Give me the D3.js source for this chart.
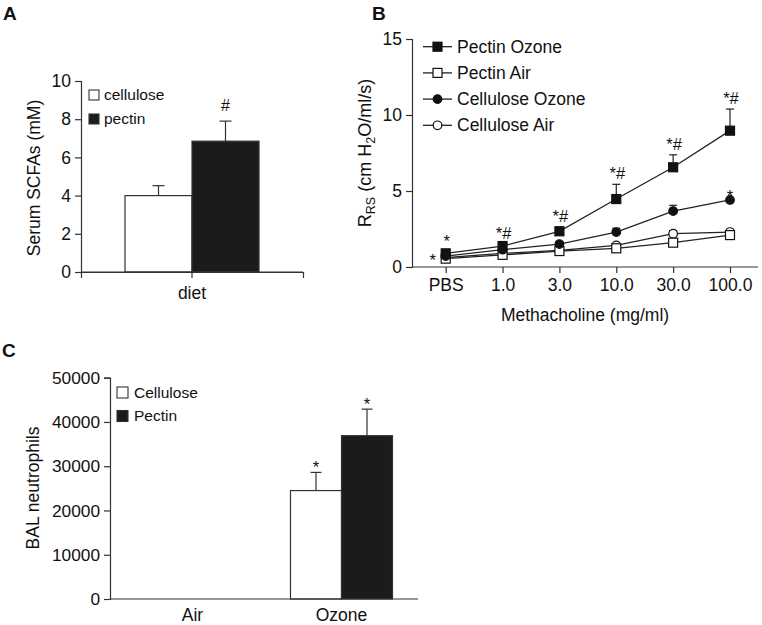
<!DOCTYPE html>
<html>
<head>
<meta charset="utf-8">
<script src="https://cdn.jsdelivr.net/npm/d3@7"></script>
<style>
  html, body { margin: 0; padding: 0; background: #fff; }
  svg { display: block; font-family: "Liberation Sans", Arial, Helvetica, sans-serif; }
</style>
</head>
<body>
<svg id="chart" width="762" height="625"></svg>
<script>
// ---------- Panel A data ----------
const dietCategories = ["diet"];
const dietGroups = ["cellulose", "pectin"];
const serumSCFAs = [4.0, 6.85];
const serumSCFAsErr = [0.52, 1.05];
const serumSig = ["", "#"];
const serumTicks = [0, 2, 4, 6, 8, 10];

// ---------- Panel B data ----------
const doses = ["PBS", "1.0", "3.0", "10.0", "30.0", "100.0"];
const pectinOzone = [0.9, 1.38, 2.35, 4.47, 6.56, 8.97];
const pectinOzoneErr = [0.1, 0.12, 0.27, 0.97, 0.82, 1.42];
const pectinAir = [0.55, 0.8, 1.05, 1.23, 1.6, 2.1];
const pectinAirErr = [0.05, 0.07, 0.1, 0.12, 0.15, 0.2];
const celluloseOzone = [0.72, 1.14, 1.51, 2.3, 3.68, 4.41];
const celluloseOzoneErr = [0.08, 0.1, 0.12, 0.25, 0.38, 0.12];
const celluloseAir = [0.62, 0.9, 1.1, 1.42, 2.19, 2.3];
const celluloseAirErr = [0.05, 0.07, 0.08, 0.12, 0.2, 0.15];
const pectinOzoneSig = ["*", "*#", "*#", "*#", "*#", "*#"];
const rrsTicks = [0, 5, 10, 15];

// ---------- Panel C data ----------
const exposures = ["Air", "Ozone"];
const balGroups = ["Cellulose", "Pectin"];
const balCellulose = [0, 24500];
const balCelluloseErr = [0, 4100];
const balPectin = [0, 36900];
const balPectinErr = [0, 6000];
const balSigCellulose = ["", "*"];
const balSigPectin = ["", "*"];
const balTicks = [0, 10000, 20000, 30000, 40000, 50000];

const svg = d3.select("#chart");
const AXIS = "#333";
const DARK = "#1b1b1b";

function styleAxis(g, fs) {
  g.selectAll("path, line").attr("stroke", AXIS).attr("stroke-width", 1.2);
  g.selectAll("text").attr("font-size", fs).attr("fill", "#111")
    .attr("font-family", "Liberation Sans, Arial, sans-serif");
}

function panelLabel(t, x, y) {
  svg.append("text").attr("x", x).attr("y", y).text(t)
    .attr("font-size", 19).attr("font-weight", "bold").attr("fill", "#111");
}

// ================= Panel A =================
(function () {
  const x = d3.scaleBand().domain(dietCategories).range([81, 303]);
  const sub = d3.scaleBand().domain(dietGroups).range([-67, 67]);
  const y = d3.scaleLinear().domain([0, 10]).range([272, 81]);
  const g = svg.append("g");

  const ya = g.append("g").attr("transform", "translate(81,0)")
    .call(d3.axisLeft(y).tickValues(serumTicks).tickSizeOuter(0).tickSize(6).tickPadding(4));
  styleAxis(ya, 17.5);
  const xa = g.append("g").attr("transform", "translate(0,272)")
    .call(d3.axisBottom(x).tickSizeOuter(0).tickSize(6).tickPadding(9));
  styleAxis(xa, 17.5);

  const cx = x("diet") + x.bandwidth() / 2;
  dietGroups.forEach((grp, i) => {
    const x0 = cx + sub(grp);
    const top = y(serumSCFAs[i]);
    const et = y(serumSCFAs[i] + serumSCFAsErr[i]);
    const mid = x0 + sub.bandwidth() / 2;
    g.append("line").attr("x1", mid).attr("x2", mid).attr("y1", top).attr("y2", et)
      .attr("stroke", AXIS).attr("stroke-width", 1.2);
    g.append("line").attr("x1", mid - 6).attr("x2", mid + 6).attr("y1", et).attr("y2", et)
      .attr("stroke", AXIS).attr("stroke-width", 1.2);
    g.append("rect").attr("x", x0).attr("y", top).attr("width", sub.bandwidth())
      .attr("height", y(0) - top)
      .attr("fill", i === 0 ? "#fff" : DARK).attr("stroke", AXIS).attr("stroke-width", 1.2);
    if (serumSig[i]) {
      g.append("text").attr("x", mid).attr("y", et - 10).attr("text-anchor", "middle")
        .attr("font-size", 16).attr("fill", "#111").text(serumSig[i]);
    }
  });
  g.append("line").attr("x1", 81).attr("x2", 303).attr("y1", 272).attr("y2", 272)
    .attr("stroke", AXIS).attr("stroke-width", 1.2);

  g.append("text").attr("transform", "translate(40,178) rotate(-90)")
    .attr("text-anchor", "middle").attr("font-size", 17.5).attr("fill", "#111")
    .text("Serum SCFAs (mM)");

  dietGroups.forEach((grp, i) => {
    const ly = 95 + i * 24;
    g.append("rect").attr("x", 89).attr("y", ly - 5).attr("width", 10).attr("height", 10)
      .attr("fill", i === 0 ? "#fff" : DARK).attr("stroke", AXIS).attr("stroke-width", 1.1);
    g.append("text").attr("x", 104).attr("y", ly).attr("dy", "0.35em")
      .attr("font-size", 15.5).attr("fill", "#111").text(grp);
  });
  panelLabel("A", 3, 20);
})();

// ================= Panel B =================
(function () {
  const x = d3.scalePoint().domain(doses).range([445.7, 730]);
  const y = d3.scaleLinear().domain([0, 15]).range([267, 39]);
  const g = svg.append("g");

  const ya = g.append("g").attr("transform", "translate(412,0)")
    .call(d3.axisLeft(y).tickValues(rrsTicks).tickSizeOuter(0).tickSize(6).tickPadding(4));
  styleAxis(ya, 17.5);
  const xa = g.append("g").attr("transform", "translate(0,267)")
    .call(d3.axisBottom(x).tickSizeOuter(0).tickSize(6).tickPadding(6));
  styleAxis(xa, 17.5);
  xa.select("path.domain").remove();
  g.append("line").attr("x1", 412).attr("x2", 758).attr("y1", 267).attr("y2", 267)
    .attr("stroke", AXIS).attr("stroke-width", 1.2);

  const series = [
    { name: "Cellulose Air", v: celluloseAir, e: celluloseAirErr, shape: "circle", filled: false },
    { name: "Pectin Air", v: pectinAir, e: pectinAirErr, shape: "square", filled: false },
    { name: "Cellulose Ozone", v: celluloseOzone, e: celluloseOzoneErr, shape: "circle", filled: true },
    { name: "Pectin Ozone", v: pectinOzone, e: pectinOzoneErr, shape: "square", filled: true }
  ];
  const line = d3.line().x((d, i) => x(doses[i])).y(d => y(d));

  series.forEach(s => {
    g.append("path").attr("d", line(s.v)).attr("fill", "none")
      .attr("stroke", "#222").attr("stroke-width", 1.3);
  });
  series.forEach(s => {
    s.v.forEach((v, i) => {
      const cx = x(doses[i]);
      const et = y(v + s.e[i]);
      g.append("line").attr("x1", cx).attr("x2", cx).attr("y1", y(v)).attr("y2", et)
        .attr("stroke", "#222").attr("stroke-width", 1.2);
      g.append("line").attr("x1", cx - 4).attr("x2", cx + 4).attr("y1", et).attr("y2", et)
        .attr("stroke", "#222").attr("stroke-width", 1.2);
    });
  });
  pectinOzoneSig.forEach((t, i) => {
    const cx = x(doses[i]);
    const et = y(pectinOzone[i] + pectinOzoneErr[i]);
    g.append("text").attr("x", cx + 1).attr("y", et - 5).attr("text-anchor", "middle")
      .attr("font-size", 16.5).attr("fill", "#111").text(t);
  });
  g.append("text").attr("x", x("PBS") - 13).attr("y", y(celluloseAir[0]) + 8)
    .attr("text-anchor", "middle").attr("font-size", 16.5).attr("fill", "#111").text("*");
  g.append("text").attr("x", x("100.0")).attr("y", y(celluloseOzone[5]) + 2)
    .attr("text-anchor", "middle").attr("font-size", 16.5).attr("fill", "#111").text("*");

  function marker(sel, s, cx, cy) {
    if (s.shape === "square") {
      sel.append("rect").attr("x", cx - 4.5).attr("y", cy - 4.5).attr("width", 9).attr("height", 9)
        .attr("fill", s.filled ? "#111" : "#fff").attr("stroke", "#111").attr("stroke-width", 1.2);
    } else {
      sel.append("circle").attr("cx", cx).attr("cy", cy).attr("r", 4.3)
        .attr("fill", s.filled ? "#111" : "#fff").attr("stroke", "#111").attr("stroke-width", 1.2);
    }
  }
  series.forEach(s => {
    s.v.forEach((v, i) => marker(g, s, x(doses[i]), y(v)));
  });

  const legendOrder = [series[3], series[1], series[2], series[0]];
  legendOrder.forEach((s, i) => {
    const ly = 46.7 + i * 26.2;
    g.append("line").attr("x1", 423).attr("x2", 452).attr("y1", ly).attr("y2", ly)
      .attr("stroke", "#222").attr("stroke-width", 1.3);
    marker(g, s, 437.5, ly);
    g.append("text").attr("x", 457).attr("y", ly).attr("dy", "0.35em")
      .attr("font-size", 17.5).attr("fill", "#111").text(s.name);
  });

  const yt = g.append("text").attr("transform", "translate(371,153) rotate(-90)")
    .attr("text-anchor", "middle").attr("font-size", 18).attr("fill", "#111");
  yt.append("tspan").text("R");
  yt.append("tspan").attr("font-size", 12.5).attr("dy", 4).text("RS");
  yt.append("tspan").attr("dy", -4).text(" (cm H");
  yt.append("tspan").attr("font-size", 12.5).attr("dy", 4).text("2");
  yt.append("tspan").attr("dy", -4).text("O/ml/s)");

  g.append("text").attr("x", 585).attr("y", 321).attr("text-anchor", "middle")
    .attr("font-size", 17.5).attr("fill", "#111").text("Methacholine (mg/ml)");
  panelLabel("B", 372, 20);
})();

// ================= Panel C =================
(function () {
  const x = d3.scaleBand().domain(exposures).range([118, 416]);
  const sub = d3.scaleBand().domain(balGroups).range([-51, 51]);
  const y = d3.scaleLinear().domain([0, 50000]).range([599, 377.7]);
  const g = svg.append("g");

  const ya = g.append("g").attr("transform", "translate(110,0)")
    .call(d3.axisLeft(y).tickValues(balTicks).tickFormat(d3.format("d")).tickSizeOuter(0).tickSize(6).tickPadding(4));
  styleAxis(ya, 17.3);
  const xa = g.append("g").attr("transform", "translate(0,599)")
    .call(d3.axisBottom(x).tickSizeOuter(0).tickSize(0).tickPadding(10));
  styleAxis(xa, 17.5);
  xa.select("path.domain").remove();

  const vals = [balCellulose, balPectin];
  const errs = [balCelluloseErr, balPectinErr];
  const sigs = [balSigCellulose, balSigPectin];
  exposures.forEach((ex, j) => {
    const cx = x(ex) + x.bandwidth() / 2;
    balGroups.forEach((grp, i) => {
      const v = vals[i][j];
      if (v <= 0) return;
      const x0 = cx + sub(grp);
      const mid = x0 + sub.bandwidth() / 2;
      const top = y(v);
      const et = y(v + errs[i][j]);
      g.append("line").attr("x1", mid).attr("x2", mid).attr("y1", top).attr("y2", et)
        .attr("stroke", AXIS).attr("stroke-width", 1.2);
      g.append("line").attr("x1", mid - 5.5).attr("x2", mid + 5.5).attr("y1", et).attr("y2", et)
        .attr("stroke", AXIS).attr("stroke-width", 1.2);
      g.append("rect").attr("x", x0).attr("y", top).attr("width", sub.bandwidth())
        .attr("height", y(0) - top)
        .attr("fill", i === 0 ? "#fff" : DARK).attr("stroke", AXIS).attr("stroke-width", 1.2);
      if (sigs[i][j]) {
        g.append("text").attr("x", mid).attr("y", et + 1).attr("text-anchor", "middle")
          .attr("font-size", 16.5).attr("fill", "#111").text(sigs[i][j]);
      }
    });
  });
  g.append("line").attr("x1", 110).attr("x2", 418).attr("y1", 599).attr("y2", 599)
    .attr("stroke", AXIS).attr("stroke-width", 1.2);

  g.append("text").attr("transform", "translate(39,488) rotate(-90)")
    .attr("text-anchor", "middle").attr("font-size", 17.5).attr("fill", "#111")
    .text("BAL neutrophils");

  balGroups.forEach((grp, i) => {
    const ly = 392.5 + i * 23.5;
    g.append("rect").attr("x", 117).attr("y", ly - 5.5).attr("width", 11).attr("height", 11)
      .attr("fill", i === 0 ? "#fff" : DARK).attr("stroke", AXIS).attr("stroke-width", 1.1);
    g.append("text").attr("x", 134).attr("y", ly).attr("dy", "0.35em")
      .attr("font-size", 15.5).attr("fill", "#111").text(grp);
  });
  panelLabel("C", 2, 357);
})();
</script>
</body>
</html>
